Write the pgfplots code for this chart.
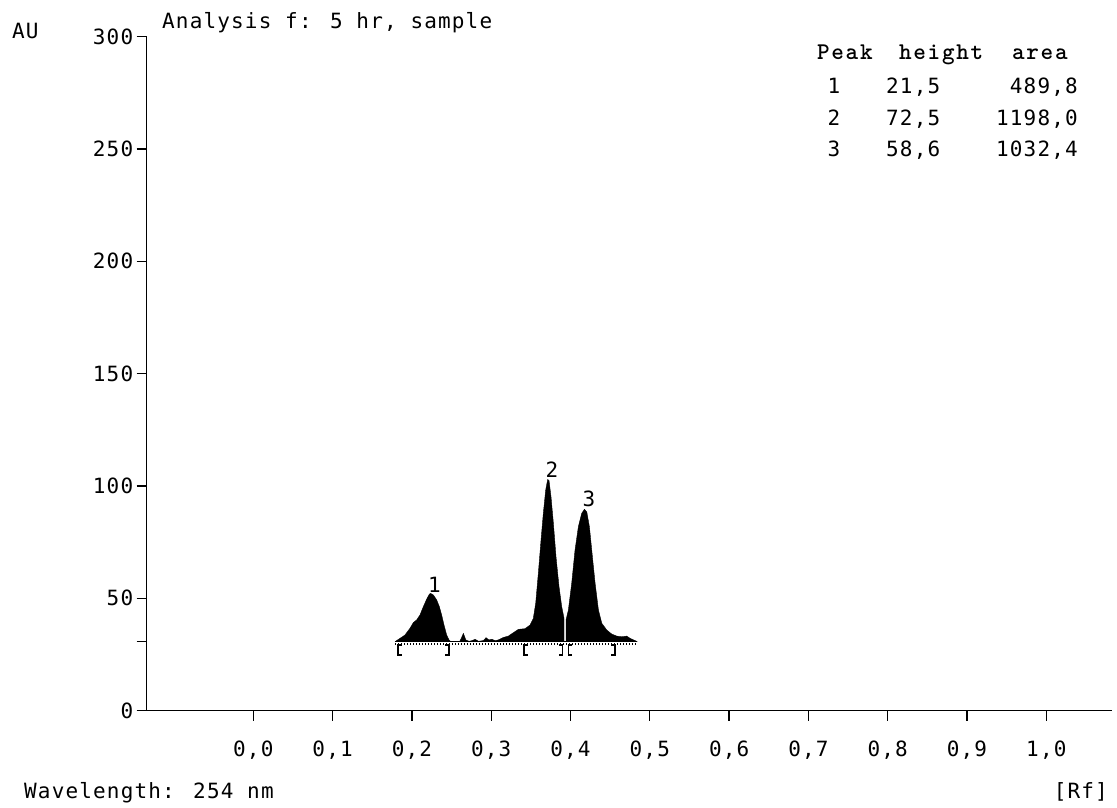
\documentclass[border=0pt]{standalone}
\usepackage{fontspec}
\usepackage{pgfplots}
\pgfplotsset{compat=1.18}
\newfontfamily\pix[LetterSpace=5.5]{DejaVu Sans Mono}
\newfontfamily\hdr[LetterSpace=7]{Latin Modern Mono Light}
\newcommand\pixf{\pix\fontsize{21}{25}\selectfont}
\newcommand\hdrf{\hdr\bfseries\fontsize{24}{28}\selectfont}
\begin{document}
\begin{tikzpicture}
\useasboundingbox (-146.7pt,-96.3pt) rectangle (970.3pt,710.7pt);
\begin{axis}[
  scale only axis, width=965.3pt, height=674.1pt,
  xmin=-0.13443, xmax=1.0828, ymin=0, ymax=300,
  axis x line*=bottom, axis y line*=left,
  axis line style={-, line width=1.3pt, black},
  x axis line style={shorten <=-9.7pt},
  xtick={0,0.1,0.2,0.3,0.4,0.5,0.6,0.7,0.8,0.9,1.0},
  ytick={0,50,100,150,200,250,300},
  tick align=outside, major tick length=10pt,
  tick style={line width=1.3pt, black},
  xticklabel style={font=\pixf, yshift=-17pt, /pgf/number format/.cd, fixed, fixed zerofill, precision=1, use comma, assume math mode=true},
  yticklabel style={font=\pixf, /pgf/number format/assume math mode=true},
  extra y ticks={30.7}, extra y tick labels={},
  clip=false,
]
% peaks 1 and 2
\addplot[fill=black, draw=black, line width=0.4pt] coordinates {
(0.1787,30.7)(0.1850,32.2)(0.1913,33.7)(0.1976,36.7)(0.2018,39.2)(0.2060,40.4)(0.2102,42.6)(0.2144,46.3)(0.2186,49.6)(0.2220,51.9)(0.2237,52.2)(0.2270,51.5)(0.2312,49.3)(0.2346,46.3)(0.2375,42.6)(0.2405,38.1)(0.2438,33.7)(0.2468,31.5)(0.2489,30.7)
(0.2600,30.7)(0.2620,32.0)(0.2649,34.4)(0.2680,31.5)(0.2720,30.9)(0.2760,31.2)(0.2796,31.8)(0.2840,30.9)(0.2900,31.2)(0.2935,32.5)(0.2970,31.5)(0.3006,31.8)(0.3050,31.2)(0.3090,31.5)(0.3153,32.6)(0.3216,33.2)(0.3279,34.7)(0.3342,36.2)(0.3426,36.5)(0.3489,38.1)(0.3531,41.1)(0.3561,47.8)(0.3594,61.1)(0.3628,75.9)(0.3657,87.8)(0.3687,98.2)(0.3712,102.9)(0.3729,102.4)(0.3754,95.2)(0.3784,83.4)(0.3817,68.5)(0.3855,55.2)(0.3889,46.3)(0.3918,41.1)(0.3918,30.7)
};
% peak 3
\addplot[fill=black, draw=black, line width=0.4pt] coordinates {
(0.3943,30.7)(0.3943,40.4)(0.3973,44.8)(0.4015,56.7)(0.4057,71.5)(0.4099,81.9)(0.4141,87.8)(0.4175,89.6)(0.4205,88.5)(0.4238,81.9)(0.4276,68.5)(0.4310,56.7)(0.4352,44.8)(0.4394,38.9)(0.4457,35.9)(0.4520,34.1)(0.4583,33.2)(0.4646,32.9)(0.4709,33.2)(0.4751,32.2)(0.4814,31.2)(0.4843,30.7)
};
% baseline and its tick row
\addplot[black, line width=1.4pt] coordinates {(0.1787,30.7)(0.4843,30.7)};
\addplot[black, line width=2pt, dash pattern=on 1pt off 2pt] coordinates {(0.1787,29.8)(0.4843,29.8)};
% integration brackets
\addplot[black, line width=1.2pt] coordinates {(0.1875,29.2)(0.1825,29.2)(0.1825,24.8)(0.1875,24.8)};
\addplot[black, line width=1.2pt] coordinates {(0.2418,29.2)(0.2468,29.2)(0.2468,24.8)(0.2418,24.8)};
\addplot[black, line width=1.2pt] coordinates {(0.3464,29.2)(0.3414,29.2)(0.3414,24.8)(0.3464,24.8)};
\addplot[black, line width=1.2pt] coordinates {(0.3852,29.2)(0.3902,29.2)(0.3902,24.8)(0.3852,24.8)};
\addplot[black, line width=1.2pt] coordinates {(0.4022,29.2)(0.3972,29.2)(0.3972,24.8)(0.4022,24.8)};
\addplot[black, line width=1.2pt] coordinates {(0.4511,29.2)(0.4561,29.2)(0.4561,24.8)(0.4511,24.8)};
% peak numbers
\node[font=\pixf, anchor=base, inner sep=0pt] at (axis cs:0.2285,52.8) {1};
\node[font=\pixf, anchor=base, inner sep=0pt] at (axis cs:0.3767,104.0) {2};
\node[font=\pixf, anchor=base, inner sep=0pt] at (axis cs:0.4233,90.7) {3};
\end{axis}
% texts around the axis (1pt = 1px of the reference)
\node[font=\pixf, anchor=base west, inner sep=0pt] at (-134.7pt,671.7pt) {AU};
\node[font=\pixf, anchor=base west, inner sep=0pt] at (15.3pt,681.7pt) {Analysis f: 5 hr, sample};
\node[font=\pixf, anchor=base west, inner sep=0pt] at (-122.7pt,-87.3pt) {Wavelength: 254 nm};
\node[font=\pixf, anchor=base east, inner sep=0pt] at (961.3pt,-87.3pt) {[Rf]};
% results table
\node[font=\hdrf, anchor=base west, inner sep=0pt] at (670.3pt,650.7pt) {Peak};
\node[font=\hdrf, anchor=base west, inner sep=0pt] at (752.3pt,650.7pt) {height};
\node[font=\hdrf, anchor=base west, inner sep=0pt] at (865.3pt,650.7pt) {area};
\node[font=\pixf, anchor=base, inner sep=0pt] at (687.3pt,616.7pt) {1};
\node[font=\pixf, anchor=base, inner sep=0pt] at (687.3pt,585.2pt) {2};
\node[font=\pixf, anchor=base, inner sep=0pt] at (687.3pt,553.7pt) {3};
\node[font=\pixf, anchor=base west, inner sep=0pt] at (739.3pt,616.7pt) {21,5};
\node[font=\pixf, anchor=base west, inner sep=0pt] at (739.3pt,585.2pt) {72,5};
\node[font=\pixf, anchor=base west, inner sep=0pt] at (739.3pt,553.7pt) {58,6};
\node[font=\pixf, anchor=base east, inner sep=0pt] at (931.3pt,616.7pt) {489,8};
\node[font=\pixf, anchor=base east, inner sep=0pt] at (931.3pt,585.2pt) {1198,0};
\node[font=\pixf, anchor=base east, inner sep=0pt] at (931.3pt,553.7pt) {1032,4};
\end{tikzpicture}
\end{document}
